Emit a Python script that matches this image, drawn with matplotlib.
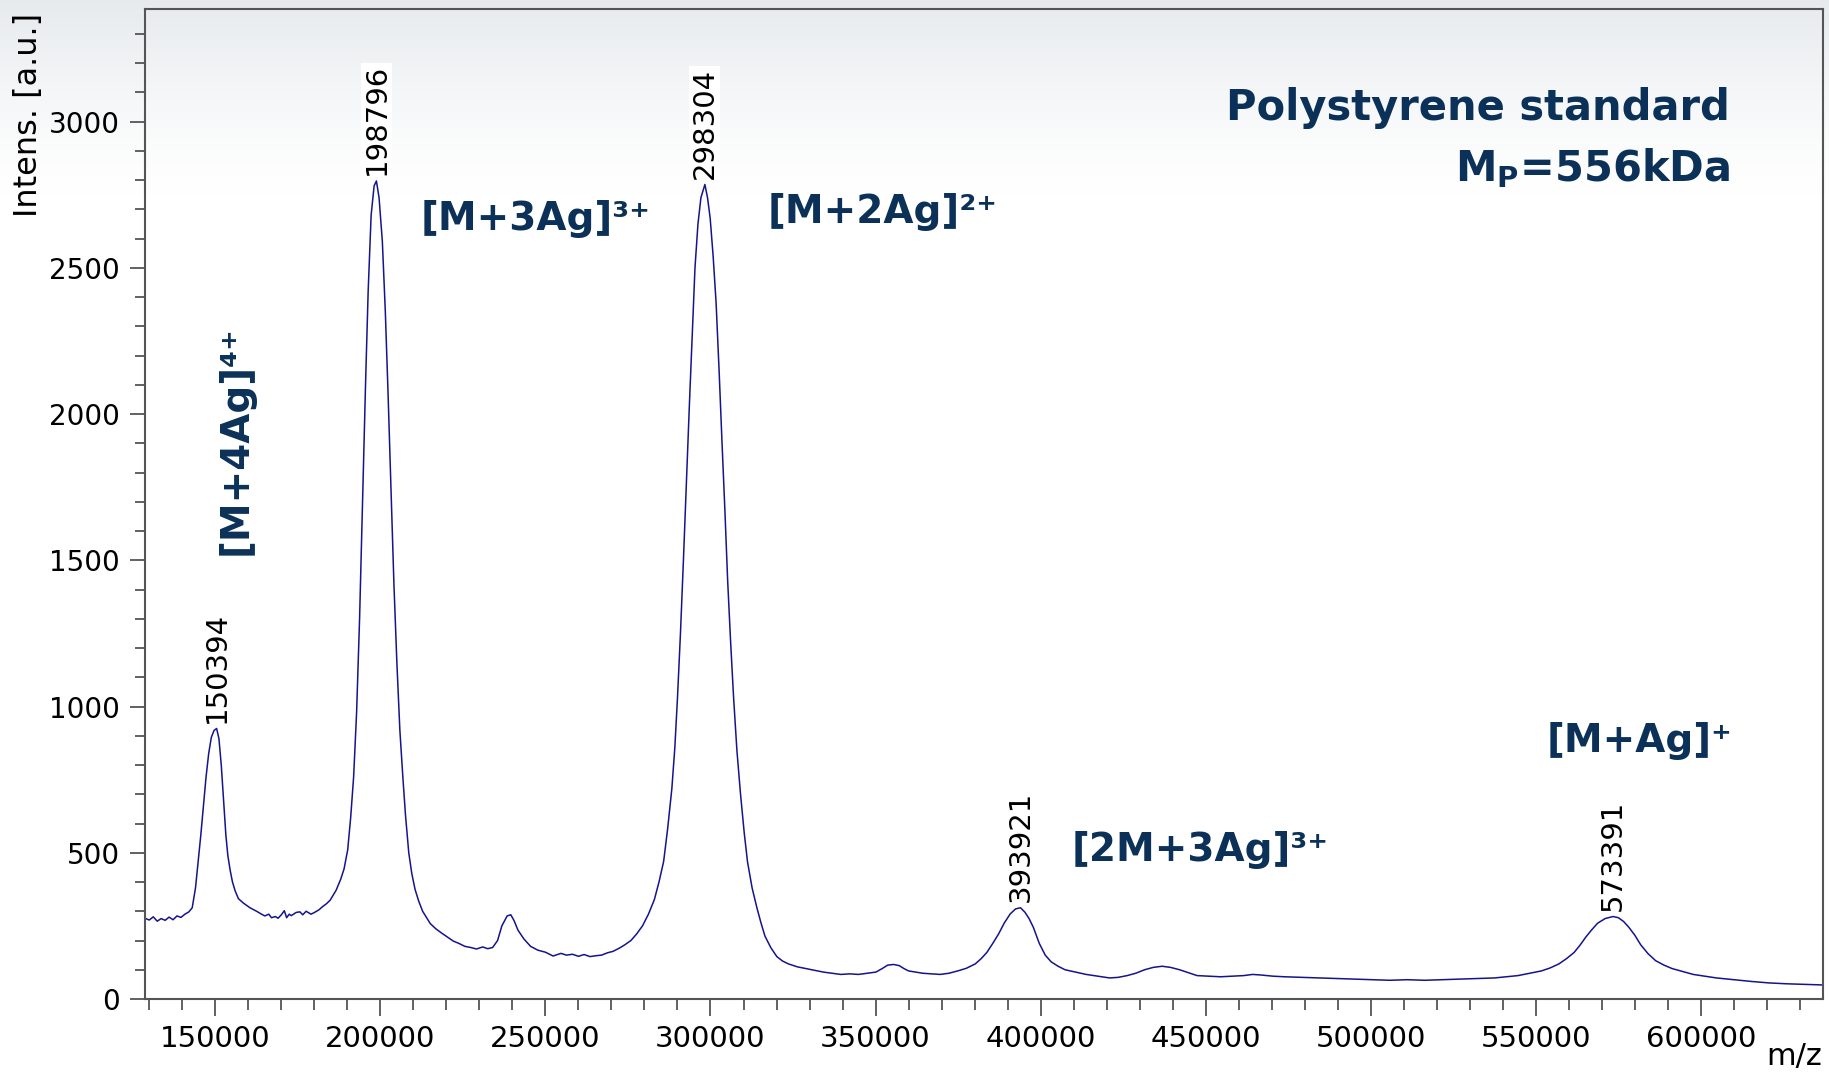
import numpy as np
import matplotlib
matplotlib.use('Agg')
import matplotlib.pyplot as plt
from matplotlib.ticker import MultipleLocator

plt.rcParams['font.family'] = ['DejaVu Sans']
plt.rcParams['mathtext.fontset'] = 'dejavusans'

# spectrum (m/z, intensity in a.u.)
mz_a = [128700, 130000, 131200, 132400, 133600, 134800, 136000, 137200, 138400, 139600,
        140800, 142000, 143000, 144000, 144800, 145600, 146400, 147200, 148000, 148800,
        149600, 150394, 151100, 151800, 152500, 153200, 153800, 154500, 155200, 156000,
        157000, 158500, 160500]
int_a = [276, 270, 281, 266, 275, 269, 280, 271, 284, 279,
         290, 298, 312, 380, 470, 560, 660, 760, 840, 895,
         918, 925, 890, 800, 680, 560, 490, 440, 400, 370,
         343, 328, 312]

mz_b = [162500, 164000, 165000, 166200, 167000, 168200, 169000, 170000, 170900, 171600,
        172400, 173000, 174500, 175600, 176500, 177500, 179000, 180200, 181400, 182500,
        183600, 184800, 186600]
int_b = [300, 290, 284, 290, 278, 282, 276, 288, 302, 278,
         290, 285, 296, 298, 288, 300, 290, 297, 305, 316,
         325, 338, 372]

mz_c = [188000, 189000, 190100, 191000, 191900, 192800, 193700, 194600, 195500, 196300,
        197200, 198100, 198796, 199600, 200600, 201500, 202300, 203200, 204100, 205000,
        205900, 206800, 207600, 208600, 209500, 210500, 211600, 212800, 214000, 215100,
        216800, 218600, 220300, 222100, 223800, 225600, 227400, 229100]
int_c = [410, 445, 510, 620, 760, 980, 1300, 1700, 2100, 2420,
         2680, 2780, 2797, 2740, 2590, 2350, 2080, 1750, 1420, 1150,
         920, 760, 630, 500, 430, 375, 335, 300, 278, 258,
         240, 225, 212, 198, 190, 180, 176, 171]

mz_d = [231000, 232500, 234000, 235500, 236800, 238400, 239500, 240500, 241700, 243500,
        245500, 247700, 250000, 252300, 254700, 256400, 258200, 260000, 261700, 263500,
        265300, 267000, 268800, 270500, 272400, 274000, 275900, 277600, 279400, 281200,
        283000, 284400]
int_d = [178, 172, 176, 200, 250, 284, 288, 268, 235, 205,
         180, 167, 160, 147, 156, 150, 153, 146, 152, 145,
         148, 150, 158, 163, 174, 185, 200, 222, 250, 290,
         340, 400]

mz_e = [285800, 287000, 288300, 289200, 290000, 290900, 291800, 292700, 293600, 294500,
        295300, 296200, 297100, 298304, 299100, 299900, 300800, 301700, 302600, 303500,
        304400, 305200, 306100, 307000, 308000, 309100, 310200, 311200, 312600, 314100,
        315300, 316500, 318300, 320100, 321800, 323600, 326300, 328900]
int_e = [470, 580, 720, 860, 1030, 1250, 1500, 1770, 2030, 2280,
         2500, 2650, 2740, 2785, 2740, 2670, 2540, 2380, 2150, 1900,
         1660, 1430, 1220, 1030, 850, 700, 570, 470, 380, 310,
         260, 215, 175, 145, 130, 120, 110, 104]

mz_f = [331600, 334200, 336900, 339500, 342200, 344800, 347500, 350100, 352000, 353700,
        355500, 357200, 358600, 360000, 362100, 364300, 366900, 369600, 372200, 374900,
        377500, 380200, 382000, 383700, 385500, 387300, 389000, 390800, 392400, 393921,
        395300, 396500, 397800, 399600, 401400, 403200, 405300, 407400, 410600, 413800,
        417300, 420900]
int_f = [98, 92, 88, 84, 86, 84, 88, 92, 104, 116,
         118, 114, 104, 96, 92, 88, 86, 84, 88, 96,
         105, 120, 138, 159, 190, 223, 260, 291, 308, 312,
         296, 275, 245, 190, 150, 127, 112, 100, 92, 84,
         78, 72]

mz_g = [423500, 426200, 428800, 431500, 434100, 436800, 439400, 442100, 444700, 447400,
        450900, 454500, 458000, 461500, 464200, 466800, 470400, 473900, 479200, 484500,
        489800, 495100, 500400, 505700, 511000, 516300, 521600, 526900, 532200, 537500,
        541000, 544600, 548200, 551700, 554300, 557000, 559300, 561600, 563400, 565100,
        566900, 568700, 571000, 573391, 575000, 576600, 578200, 580000, 581800, 584000,
        586300, 588800, 591300, 594500, 597700, 601200, 604700, 610000, 615300, 620600,
        626000, 631500, 637000]
int_g = [74, 80, 88, 100, 108, 112, 108, 100, 90, 80,
         78, 76, 78, 80, 84, 82, 78, 76, 74, 72,
         70, 68, 66, 64, 66, 64, 66, 68, 70, 72,
         76, 80, 88, 96, 106, 120, 138, 159, 184, 211,
         236, 259, 275, 282, 278, 265, 245, 218, 185, 155,
         131, 116, 104, 94, 84, 78, 72, 66, 60, 55,
         52, 50, 48]

mz = mz_a + mz_b + mz_c + mz_d + mz_e + mz_f + mz_g
intens = int_a + int_b + int_c + int_d + int_e + int_f + int_g

peak_mz = [150394, 198796, 298304, 393921, 573391]
peak_int = [925, 2797, 2785, 312, 282]

navy = '#0b3158'

fig = plt.figure(figsize=(18.29, 10.74), dpi=100)

# light grey gradient at the top of the picture
bg = fig.add_axes([0, 0, 1, 1], zorder=-10)
t = np.linspace(0, 1, 400)[:, None]
fade = np.clip(1 - t / 0.18, 0, 1) ** 1.3
grad = np.ones((400, 2, 3))
grad[:, :, 0] -= 0.095 * fade
grad[:, :, 1] -= 0.080 * fade
grad[:, :, 2] -= 0.070 * fade
bg.imshow(grad, aspect='auto', extent=[0, 1, 0, 1], origin='upper')
bg.axis('off')

ax = fig.add_axes([145 / 1829, 1 - 999 / 1074, 1678 / 1829, 990 / 1074])
ax.patch.set_alpha(0)
ax.plot(mz, intens, color='#14148c', lw=1.1)

ax.set_xlim(128700, 637000)
ax.xaxis.set_major_locator(MultipleLocator(50000))
ax.xaxis.set_minor_locator(MultipleLocator(10000))
ax.yaxis.set_major_locator(MultipleLocator(500))
ax.yaxis.set_minor_locator(MultipleLocator(100))
ax.set_xticks(range(150000, 600001, 50000))
ax.set_yticks(range(0, 3001, 500))
ax.set_ylim(0, 3385)
for s in ax.spines.values():
    s.set_color('#555555')
    s.set_linewidth(1.5)
ax.tick_params(axis='both', which='both', direction='out', color='#555555',
               width=1.3)
ax.tick_params(axis='x', which='major', length=12, pad=7, labelsize=21)
ax.tick_params(axis='x', which='minor', length=8)
ax.tick_params(axis='y', which='major', length=11, pad=7, labelsize=20)
ax.tick_params(axis='y', which='minor', length=7)

# peak labels
for x, y in zip(peak_mz, peak_int):
    ax.annotate(str(x), (x, y), xytext=(0, 4), textcoords='offset points',
                rotation=90, ha='center', va='bottom', fontsize=21,
                bbox=dict(facecolor='white', edgecolor='none', pad=1))

# ion labels
ion_kw = dict(transform=ax.transAxes, color=navy, fontsize=28,
              fontweight='bold', va='baseline')
ax.text(0.164, 0.777, '[M+3Ag]\u00b3\u207a', ha='left', **ion_kw)
ax.text(0.371, 0.784, '[M+2Ag]\u00b2\u207a', ha='left', **ion_kw)
ax.text(0.552, 0.139, '[2M+3Ag]\u00b3\u207a', ha='left', **ion_kw)
ax.text(0.946, 0.250, '[M+Ag]\u207a', ha='right', **ion_kw)
ax.text(0.0608, 0.448, '[M+4Ag]\u2074\u207a', ha='left', rotation=90,
        rotation_mode='anchor', **ion_kw)

title_kw = dict(transform=ax.transAxes, color=navy, fontsize=30,
                fontweight='bold', va='baseline', ha='right')
ax.text(0.9446, 0.888, 'Polystyrene standard', **title_kw)
ax.text(0.9446, 0.826, r'M$_\mathbf{P}$=556kDa', **title_kw)

fig.text(29 / 1829, 1 - 13 / 1074, 'Intens. [a.u.]', rotation=90,
         ha='center', va='top', fontsize=23)
fig.text(1822 / 1829, 3 / 1074, 'm/z', ha='right', va='bottom', fontsize=22)

fig.savefig('out.png', dpi=100)
